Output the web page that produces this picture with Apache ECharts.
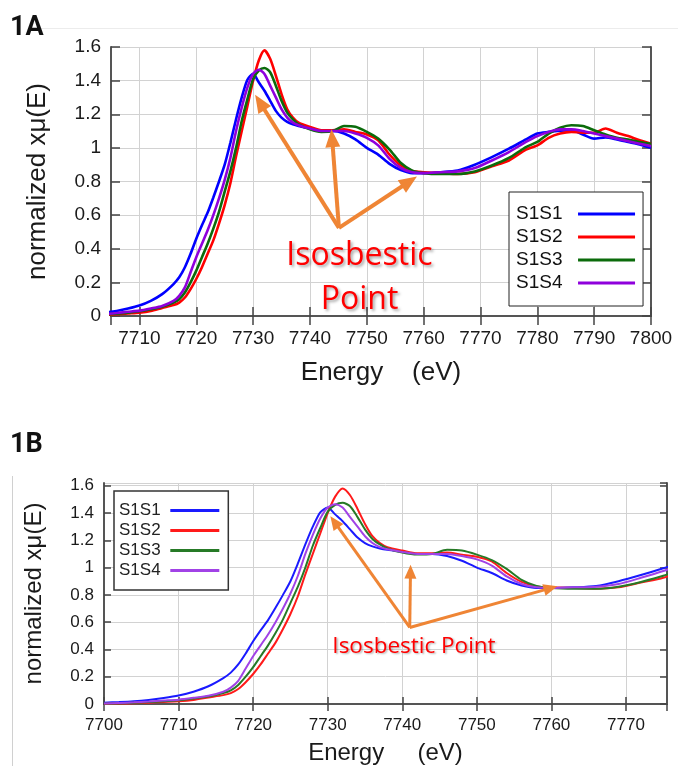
<!DOCTYPE html>
<html lang="en">

<head>
    <meta charset="UTF-8">
    <title>XANES S1S1-S1S4</title>
    <script src="https://cdn.jsdelivr.net/npm/echarts@6/dist/echarts.min.js"></script>
    <style>
        html, body { margin: 0; padding: 0; background: #ffffff; }
        #chart { width: 678px; height: 766px; }
    </style>
</head>

<body>
    <div id="chart"></div>
</body>

<script>
    // 能量 (eV)
    var energy = [7700, 7702, 7704, 7706, 7708, 7710, 7712, 7714, 7716, 7717, 7718, 7719, 7720,
        7721, 7722, 7723, 7724, 7725, 7726, 7727, 7728, 7729, 7730, 7731, 7732, 7733, 7734,
        7735, 7736, 7737, 7738, 7740, 7742, 7744, 7746, 7748, 7750, 7752, 7754, 7756, 7758,
        7760, 7763, 7766, 7769, 7772, 7775, 7778, 7780, 7782, 7784, 7786, 7788, 7790, 7792,
        7794, 7796, 7798, 7800];

    var s1s1 = [0.010, 0.014, 0.020, 0.030, 0.044, 0.062, 0.090, 0.130, 0.190, 0.230, 0.290, 0.370, 0.460,
        0.540, 0.615, 0.705, 0.800, 0.900, 1.030, 1.170, 1.300, 1.405, 1.440, 1.390, 1.340, 1.280, 1.220,
        1.180, 1.155, 1.140, 1.130, 1.115, 1.100, 1.100, 1.085, 1.050, 1.000, 0.960, 0.905, 0.868, 0.850,
        0.850, 0.855, 0.865, 0.900, 0.945, 0.995, 1.050, 1.085, 1.095, 1.102, 1.105, 1.080, 1.055, 1.062,
        1.050, 1.035, 1.020, 1.000];

    var s1s2 = [0.000, 0.003, 0.006, 0.010, 0.015, 0.020, 0.030, 0.048, 0.065, 0.080, 0.110, 0.160, 0.220,
        0.290, 0.370, 0.450, 0.550, 0.660, 0.790, 0.950, 1.100, 1.250, 1.400, 1.520, 1.580, 1.530, 1.430,
        1.320, 1.230, 1.180, 1.150, 1.125, 1.105, 1.105, 1.110, 1.095, 1.080, 1.045, 0.960, 0.895, 0.862,
        0.855, 0.850, 0.845, 0.855, 0.890, 0.925, 0.990, 1.015, 1.060, 1.085, 1.095, 1.090, 1.090, 1.115,
        1.090, 1.070, 1.045, 1.025];

    var s1s3 = [0.003, 0.006, 0.010, 0.014, 0.020, 0.028, 0.040, 0.055, 0.080, 0.100, 0.140, 0.200, 0.270,
        0.350, 0.430, 0.520, 0.620, 0.740, 0.860, 1.000, 1.160, 1.290, 1.410, 1.460, 1.475, 1.450, 1.370,
        1.280, 1.210, 1.170, 1.140, 1.110, 1.095, 1.100, 1.130, 1.125, 1.095, 1.055, 0.990, 0.910, 0.865,
        0.850, 0.845, 0.845, 0.860, 0.895, 0.940, 1.005, 1.035, 1.085, 1.120, 1.135, 1.130, 1.105, 1.080,
        1.060, 1.050, 1.035, 1.025];

    var s1s4 = [0.004, 0.008, 0.012, 0.018, 0.025, 0.032, 0.045, 0.060, 0.090, 0.120, 0.170, 0.260, 0.350,
        0.430, 0.510, 0.600, 0.700, 0.810, 0.940, 1.100, 1.240, 1.360, 1.440, 1.465, 1.440, 1.370, 1.300,
        1.230, 1.180, 1.150, 1.135, 1.115, 1.100, 1.100, 1.100, 1.085, 1.060, 1.015, 0.935, 0.880, 0.855,
        0.850, 0.855, 0.860, 0.880, 0.925, 0.975, 1.035, 1.070, 1.095, 1.110, 1.110, 1.100, 1.085, 1.070,
        1.055, 1.040, 1.025, 1.010];

    var names = ['S1S1', 'S1S2', 'S1S3', 'S1S4'];
    var values = [s1s1, s1s2, s1s3, s1s4];
    var colorsA = ['#0000ff', '#ff0000', '#0b6b0b', '#8f00dc'];
    var colorsB = ['#1a1aff', '#ff1a1a', '#267a26', '#a142e6'];

    // 箭头 (数据坐标)：起点 -> 终点
    var arrowsA = [
        [[7745.1, 0.524], [7731.2, 1.270]],
        [[7745.1, 0.524], [7743.9, 1.058]],
        [[7745.1, 0.524], [7757.5, 0.800]]
    ];
    var arrowsB = [
        [[7741.0, 0.561], [7730.9, 1.335]],
        [[7741.0, 0.561], [7741.1, 0.970]],
        [[7741.0, 0.561], [7759.9, 0.849]]
    ];

    var orange = '#ef8535';
    var fontAx = '"Liberation Sans", Arial, sans-serif';

    function pairs(vals) {
        return energy.map(function (e, i) { return [e, vals[i]]; });
    }

    function arrowData(list) {
        return list.map(function (a) {
            return [{ coord: a[0], symbol: 'none' }, { coord: a[1] }];
        });
    }

    var series = [];
    names.forEach(function (n, i) {
        series.push({
            name: n, type: 'line', xAxisIndex: 0, yAxisIndex: 0,
            data: pairs(values[i]), showSymbol: false, symbol: 'none', smooth: 0.25,
            lineStyle: { color: colorsA[i], width: 2.6 }, itemStyle: { color: colorsA[i] },
            silent: true
        });
    });
    names.forEach(function (n, i) {
        series.push({
            name: n, type: 'line', xAxisIndex: 2, yAxisIndex: 2,
            data: pairs(values[i]), showSymbol: false, symbol: 'none', smooth: 0.25,
            lineStyle: { color: colorsB[i], width: 2 }, itemStyle: { color: colorsB[i] },
            silent: true
        });
    });
    // 等吸收点箭头
    series.push({
        type: 'line', xAxisIndex: 0, yAxisIndex: 0, data: [], silent: true,
        markLine: {
            silent: true, animation: false, symbol: ['none', 'triangle'], symbolSize: [15, 18],
            label: { show: false },
            lineStyle: { color: orange, width: 4, type: 'solid' },
            data: arrowData(arrowsA)
        }
    });
    series.push({
        type: 'line', xAxisIndex: 2, yAxisIndex: 2, data: [], silent: true,
        markLine: {
            silent: true, animation: false, symbol: ['none', 'triangle'], symbolSize: [12, 14],
            label: { show: false },
            lineStyle: { color: orange, width: 3, type: 'solid' },
            data: arrowData(arrowsB)
        }
    });

    function mainX(grid, min, max, split, fs, name, gap, tickLen) {
        return {
            type: 'value', gridIndex: grid, min: min, max: max, splitNumber: split,
            name: name, nameLocation: 'middle', nameGap: gap,
            nameTextStyle: { fontFamily: fontAx, fontSize: fs + 7, color: '#1a1a1a' },
            axisLine: { show: true, lineStyle: { color: '#555', width: 2 } },
            axisTick: { show: true, inside: true, length: tickLen, lineStyle: { color: '#444', width: 1.5 } },
            axisLabel: {
                fontFamily: fontAx, fontSize: fs, color: '#1a1a1a', margin: 13,
                showMinLabel: grid === 0 ? false : true, showMaxLabel: grid === 0 ? true : false,
                formatter: function (v) { return String(v); }
            },
            splitLine: { show: true, lineStyle: { color: '#d2d2d2', width: 1 } }
        };
    }

    function mainY(grid, max, fs, name, gap, tickLen) {
        return {
            type: 'value', gridIndex: grid, min: 0, max: max, interval: 0.2,
            name: name, nameLocation: 'middle', nameGap: gap,
            nameTextStyle: { fontFamily: fontAx, fontSize: fs + 7, color: '#1a1a1a' },
            axisLine: { show: true, lineStyle: { color: '#555', width: 2 } },
            axisTick: { show: true, inside: true, length: tickLen, lineStyle: { color: '#444', width: 1.5 } },
            axisLabel: {
                fontFamily: fontAx, fontSize: fs, color: '#1a1a1a', margin: 10, showMaxLabel: max === 1.6,
                formatter: function (v) { return String(Math.round(v * 10) / 10); }
            },
            splitLine: { show: true, lineStyle: { color: '#d2d2d2', width: 1 } }
        };
    }

    function mirror(type, grid, min, max, pos, tickLen, split) {
        var ax = {
            type: 'value', gridIndex: grid, min: min, max: max, position: pos,
            axisLine: { show: true, lineStyle: { color: '#555', width: 2 } },
            axisTick: { show: true, inside: true, length: tickLen, lineStyle: { color: '#444', width: 1.5 } },
            axisLabel: { show: false },
            splitLine: { show: false }
        };
        if (type === 'x') ax.splitNumber = split; else ax.interval = 0.2;
        return ax;
    }

    var myChart = echarts.init(document.getElementById('chart'), null, { renderer: 'canvas' });

    myChart.setOption({
        backgroundColor: '#ffffff',
        animation: false,
        grid: [
            { left: 111, top: 47, width: 540, height: 269 },
            { left: 104, top: 483, width: 563, height: 221 }
        ],
        xAxis: [
            mainX(0, 7705, 7800, 10, 19, 'Energy    (eV)', 44, 9),
            mirror('x', 0, 7705, 7800, 'top', 9, 10),
            mainX(1, 7700, 7775.5, 8, 17, 'Energy     (eV)', 37, 7),
            mirror('x', 1, 7700, 7775.5, 'top', 7, 8)
        ],
        yAxis: [
            mainY(0, 1.6, 19, 'normalized xμ(E)', 60, 9),
            mirror('y', 0, 0, 1.6, 'right', 9),
            mainY(1, 1.62, 17, 'normalized xμ(E)', 58, 7),
            mirror('y', 1, 0, 1.62, 'right', 7)
        ],
        legend: [
            {
                left: 509, top: 192, orient: 'vertical', align: 'right',
                icon: 'rect', itemWidth: 57, itemHeight: 3, itemGap: 3,
                padding: [12, 8, 13, 7],
                backgroundColor: '#ffffff', borderColor: '#222', borderWidth: 1, borderRadius: 0,
                textStyle: { fontFamily: fontAx, fontSize: 19, lineHeight: 20, color: '#111' },
                formatter: function (n) { return n + '  '; },
                selectedMode: false,
                data: names.map(function (n, i) { return { name: n, itemStyle: { color: colorsA[i] } }; })
            },
            {
                left: 114, top: 491, orient: 'vertical', align: 'right',
                icon: 'rect', itemWidth: 49, itemHeight: 3, itemGap: 3,
                padding: [11, 9, 11, 5],
                backgroundColor: '#ffffff', borderColor: '#333', borderWidth: 1.5, borderRadius: 0,
                textStyle: { fontFamily: fontAx, fontSize: 17, lineHeight: 17, color: '#222' },
                formatter: function (n) { return n + ' '; },
                selectedMode: false,
                data: names.map(function (n, i) { return { name: n, itemStyle: { color: colorsB[i] } }; })
            }
        ],
        graphic: [
            { type: 'line', shape: { x1: 40, y1: 28.5, x2: 678, y2: 28.5 }, style: { stroke: '#ececec', lineWidth: 1 } },
            { type: 'line', shape: { x1: 12.5, y1: 476, x2: 12.5, y2: 766 }, style: { stroke: '#d0d0d0', lineWidth: 1 } },
            {
                type: 'text', left: 10, top: 15,
                style: { text: '1A', font: 'bold 27px Roboto, "Noto Sans", sans-serif', fill: '#111' }
            },
            {
                type: 'text', left: 10, top: 432,
                style: { text: '1B', font: 'bold 27px Roboto, "Noto Sans", sans-serif', fill: '#111' }
            },
            {
                type: 'text', x: 359.5, y: 255.5, z: 10,
                style: {
                    text: 'Isosbestic', font: '32px "Open Sans", sans-serif', fill: '#ff0000',
                    align: 'center', verticalAlign: 'middle',
                    textShadowColor: 'rgba(0,0,0,0.35)', textShadowBlur: 3, textShadowOffsetX: 2, textShadowOffsetY: 2
                }
            },
            {
                type: 'text', x: 359.5, y: 299.5, z: 10,
                style: {
                    text: 'Point', font: '32px "Open Sans", sans-serif', fill: '#ff0000',
                    align: 'center', verticalAlign: 'middle',
                    textShadowColor: 'rgba(0,0,0,0.35)', textShadowBlur: 3, textShadowOffsetX: 2, textShadowOffsetY: 2
                }
            },
            {
                type: 'text', x: 414, y: 646.5, z: 10,
                style: {
                    text: 'Isosbestic Point', font: '22.5px "Open Sans", sans-serif', fill: '#ff0000',
                    align: 'center', verticalAlign: 'middle',
                    textShadowColor: 'rgba(0,0,0,0.3)', textShadowBlur: 2, textShadowOffsetX: 1.5, textShadowOffsetY: 1.5
                }
            }
        ],
        series: series
    });
</script>

</html>
